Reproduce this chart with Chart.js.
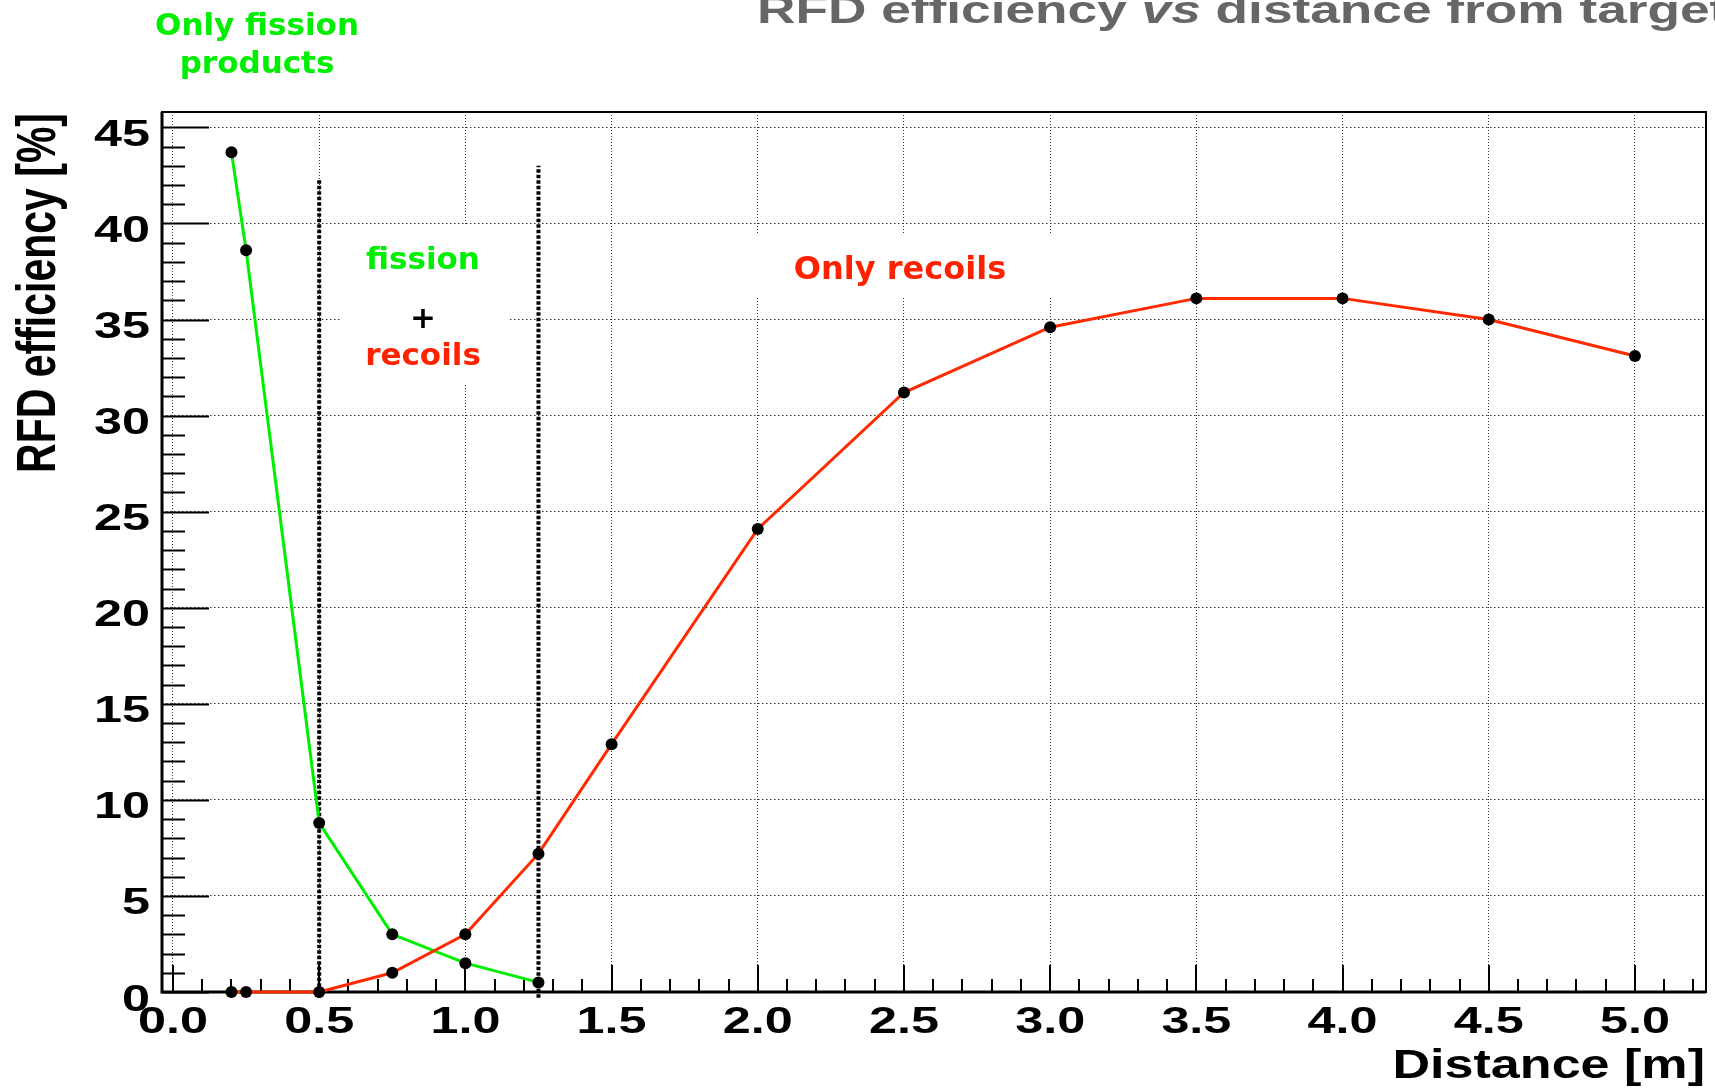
<!DOCTYPE html>
<html>
<head>
<meta charset="utf-8">
<title>RFD efficiency vs distance from target</title>
<script src="https://cdn.jsdelivr.net/npm/chart.js@4.4.1/dist/chart.umd.min.js"></script>
<style>
html, body { margin: 0; padding: 0; background: #fff; }
#wrap { width: 1715px; height: 1088px; position: relative; }
</style>
</head>
<body>
<div id="wrap"><canvas id="rfd"></canvas></div>
<script>
(function(){
    // distance from target [m] / RFD efficiency [%]
    var fissionDist = [0.2, 0.25, 0.5, 0.75, 1.0, 1.25];
    var fissionEff = [43.7, 38.6, 8.8, 3.0, 1.5, 0.5];
    var recoilDist = [0.2, 0.25, 0.5, 0.75, 1.0, 1.25, 1.5, 2.0, 2.5, 3.0, 3.5, 4.0, 4.5, 5.0];
    var recoilEff = [0, 0, 0, 1.0, 3.0, 7.2, 12.9, 24.1, 31.2, 34.6, 36.1, 36.1, 35.0, 33.1];
    // region borders (thick dotted verticals)
    var borderDist = [0.5, 1.25];
    var borderTop = [42.3, 43.0];
    var borderBottom = -0.3;
    // axis ticks
    var xTickLabels = ["0.0", "0.5", "1.0", "1.5", "2.0", "2.5", "3.0", "3.5", "4.0", "4.5", "5.0"];
    var yTickLabels = ["0", "5", "10", "15", "20", "25", "30", "35", "40", "45"];
    var xRange = [-0.0376, 5.243];
    var yRange = [0, 45.8];

    var GREEN = "#00ee00";
    var RED = "#ff2a00";
    var HS = 1.36; // the original picture is stretched sideways

    function pts(xs, ys){
        return xs.map(function(x, i){ return {x: x, y: ys[i]}; });
    }

    function stretchText(ctx, txt, x, y, font, color, k, align){
        ctx.save();
        ctx.translate(x, y);
        ctx.scale(k, 1);
        ctx.font = font;
        ctx.fillStyle = color;
        ctx.textAlign = align || "left";
        ctx.textBaseline = "alphabetic";
        ctx.fillText(txt, 0, 0);
        ctx.restore();
    }

    // white label boxes hide the grid (data units: x0, x1, y0, y1)
    var labelBoxes = [[0.572, 1.147, 31.7, 39.9], [1.94, 3.05, 36.2, 39.4]];

    var rootFrame = {
        id: "rootFrame",
        beforeDatasetsDraw: function(chart){
            var ctx = chart.ctx, a = chart.chartArea, sx = chart.scales.x, sy = chart.scales.y;
            ctx.save();
            ctx.fillStyle = "#fff";
            labelBoxes.forEach(function(b){
                var x0 = sx.getPixelForValue(b[0]), x1 = sx.getPixelForValue(b[1]);
                var y0 = sy.getPixelForValue(b[3]), y1 = sy.getPixelForValue(b[2]);
                ctx.fillRect(x0, y0, x1 - x0, y1 - y0);
            });
            // ticks inside the frame
            ctx.strokeStyle = "#000";
            ctx.lineWidth = 2;
            ctx.beginPath();
            for (var v = 0; v <= 45; v++) {
                var py = Math.round(sy.getPixelForValue(v)) + 0.5;
                var len = v % 5 === 0 ? 47 : 23;
                ctx.moveTo(a.left, py);
                ctx.lineTo(a.left + len, py);
            }
            for (var i = 0; i <= 52; i++) {
                var px = Math.round(sx.getPixelForValue(i / 10));
                var l = i % 5 === 0 ? 27 : 13;
                ctx.moveTo(px, a.bottom);
                ctx.lineTo(px, a.bottom - l);
            }
            ctx.stroke();
            // frame
            ctx.lineWidth = 2;
            ctx.strokeRect(a.left, a.top, a.right - a.left, a.bottom - a.top);
            ctx.lineWidth = 3;
            ctx.beginPath();
            ctx.moveTo(a.left, a.top);
            ctx.lineTo(a.left, a.bottom);
            ctx.lineTo(a.right, a.bottom);
            ctx.stroke();
            ctx.restore();
        },
        afterDraw: function(chart){
            var ctx = chart.ctx, a = chart.chartArea, sx = chart.scales.x, sy = chart.scales.y;
            var tickFont = "bold 37px 'Liberation Sans', Arial, sans-serif";
            yTickLabels.forEach(function(t){
                stretchText(ctx, t, 150, sy.getPixelForValue(parseFloat(t)) + 18.5, tickFont, "#000", HS, "right");
            });
            xTickLabels.forEach(function(t){
                stretchText(ctx, t, sx.getPixelForValue(parseFloat(t)), 1033, tickFont, "#000", HS, "center");
            });
            // axis titles
            stretchText(ctx, "Distance [m]", a.right - 1, 1078, "bold 41px 'Liberation Sans', Arial, sans-serif", "#000", 1.27, "right");
            ctx.save();
            ctx.translate(55, 113);
            ctx.rotate(-Math.PI / 2);
            ctx.scale(1, 1.35);
            ctx.font = "bold 41px 'Liberation Sans', Arial, sans-serif";
            ctx.fillStyle = "#000";
            ctx.textAlign = "right";
            ctx.textBaseline = "alphabetic";
            ctx.fillText("RFD efficiency [%]", 0, 0);
            ctx.restore();
            // main title, partly outside the picture
            var parts = [
                {t: "RFD efficiency ", f: "bold 39px 'Liberation Sans', Arial, sans-serif"},
                {t: "vs", f: "italic bold 39px 'Liberation Sans', Arial, sans-serif"},
                {t: " distance from target", f: "bold 39px 'Liberation Sans', Arial, sans-serif"}
            ];
            var tx = 757;
            parts.forEach(function(p){
                ctx.font = p.f;
                var w = ctx.measureText(p.t).width;
                stretchText(ctx, p.t, tx, 23, p.f, "#666666", 1.365, "left");
                tx += w * 1.365;
            });
            // region labels
            var lf = "bold 31px 'DejaVu Sans', Verdana, sans-serif";
            stretchText(ctx, "Only fission", 257, 35, lf, GREEN, 1, "center");
            stretchText(ctx, "products", 257, 72.5, lf, GREEN, 1, "center");
            stretchText(ctx, "fission", 423, 269, lf, GREEN, 1, "center");
            stretchText(ctx, "+", 423, 328, lf, "#000", 1, "center");
            stretchText(ctx, "recoils", 423, 365, lf, "#ff2200", 1, "center");
            stretchText(ctx, "Only recoils", 900, 279, "bold 32px 'DejaVu Sans', Verdana, sans-serif", "#ff2200", 1, "center");
        }
    };

    var borderSets = borderDist.map(function(d, i){
        return {
            label: "border " + d,
            data: [{x: d, y: borderBottom}, {x: d, y: borderTop[i]}],
            borderColor: "#000",
            borderWidth: 4,
            borderDash: [3.5, 2],
            borderCapStyle: "butt",
            pointRadius: 0,
            clip: false
        };
    });

    new Chart(document.getElementById("rfd"), {
        type: "line",
        data: {
            datasets: [{
                label: "Only recoils",
                data: pts(recoilDist, recoilEff),
                borderColor: RED,
                borderWidth: 3,
                pointRadius: 6,
                pointBackgroundColor: "#000",
                pointBorderWidth: 0,
                tension: 0,
                clip: false
            }, {
                label: "Only fission products",
                data: pts(fissionDist, fissionEff),
                borderColor: GREEN,
                borderWidth: 3,
                pointRadius: 6,
                pointBackgroundColor: "#000",
                pointBorderWidth: 0,
                tension: 0,
                clip: false
            }].concat(borderSets)
        },
        options: {
            responsive: true,
            maintainAspectRatio: false,
            animation: false,
            events: [],
            devicePixelRatio: 1,
            layout: { padding: { left: 162, top: 112, right: 9, bottom: 96 } },
            plugins: { legend: { display: false }, tooltip: { enabled: false } },
            scales: {
                x: {
                    type: "linear",
                    min: xRange[0],
                    max: xRange[1],
                    ticks: { display: false, stepSize: 0.5, includeBounds: false },
                    grid: { color: "#333", lineWidth: 1, drawTicks: false },
                    border: { display: false, dash: [1, 2] },
                    afterFit: function(s){ s.height = 0; }
                },
                y: {
                    type: "linear",
                    min: yRange[0],
                    max: yRange[1],
                    ticks: { display: false, stepSize: 5, includeBounds: false },
                    grid: { color: "#333", lineWidth: 1, drawTicks: false },
                    border: { display: false, dash: [1.5, 2.5] },
                    afterFit: function(s){ s.width = 0; }
                }
            }
        },
        plugins: [rootFrame]
    });
})();
</script>
</body>
</html>
